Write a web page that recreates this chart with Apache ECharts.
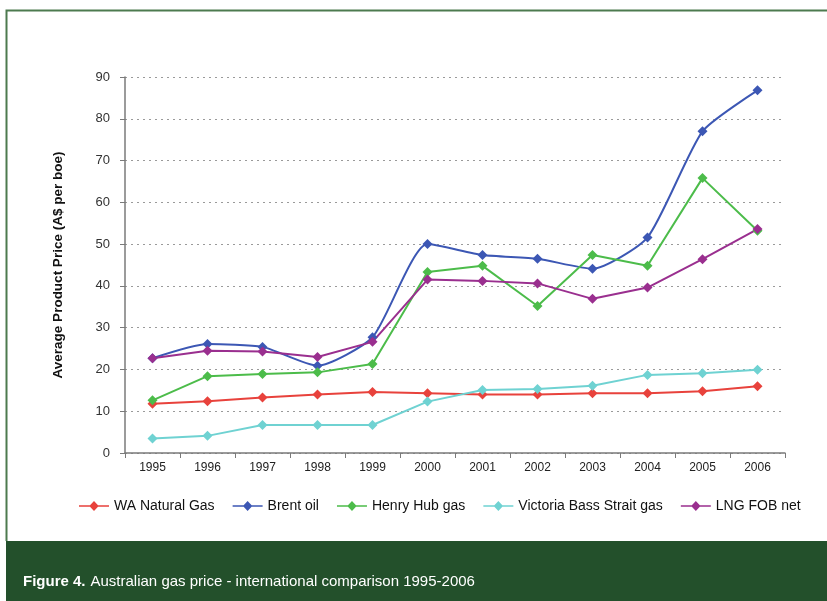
<!DOCTYPE html>
<html>
<head>
<meta charset="utf-8">
<script src="https://cdn.jsdelivr.net/npm/echarts@6/dist/echarts.min.js"></script>
<style>
  html, body { margin: 0; padding: 0; background: #fff; }
  #chart { width: 827px; height: 601px; }
</style>
</head>
<body>
<div id="chart"></div>
<script>
// Years on the category axis
const years = ['1995', '1996', '1997', '1998', '1999', '2000', '2001', '2002', '2003', '2004', '2005', '2006'];

// Average product price, A$ per boe
const waNaturalGas = [11.8, 12.4, 13.3, 14.0, 14.6, 14.3, 14.0, 14.0, 14.3, 14.3, 14.8, 16.0];
const brentOil = [22.7, 26.1, 25.4, 20.9, 27.7, 50.0, 47.4, 46.5, 44.1, 51.6, 77.0, 86.8];
const henryHub = [12.6, 18.4, 18.9, 19.3, 21.3, 43.3, 44.8, 35.2, 47.4, 44.8, 65.8, 53.2];
const victoriaBass = [3.5, 4.1, 6.7, 6.7, 6.7, 12.3, 15.1, 15.3, 16.1, 18.7, 19.1, 19.9];
const lngFob = [22.7, 24.5, 24.3, 23.0, 26.6, 41.5, 41.2, 40.6, 36.9, 39.6, 46.4, 53.6];

const yTicks = { min: 0, max: 90, interval: 10 };

const seriesDefs = [
  { name: 'WA Natural Gas', data: waNaturalGas, color: '#e8423c', smooth: false },
  { name: 'Brent oil', data: brentOil, color: '#3c57b4', smooth: 0.2 },
  { name: 'Henry Hub gas', data: henryHub, color: '#4cbc4a', smooth: false },
  { name: 'Victoria Bass Strait gas', data: victoriaBass, color: '#6fd2d2', smooth: false },
  { name: 'LNG FOB net', data: lngFob, color: '#9a2f8f', smooth: false }
];

const narrow = '"Liberation Sans Narrow", "Arial Narrow", "Liberation Sans", Arial, sans-serif';
const sans = '"Liberation Sans", Arial, sans-serif';

// Legend key: a short line with a diamond marker on it
const lineDiamondIcon = 'path://M0,4.3L11,4.3L15,0L19,4.3L30,4.3L30,5.7L19,5.7L15,10L11,5.7L0,5.7Z';

const chart = echarts.init(document.getElementById('chart'), null, { renderer: 'canvas' });

chart.setOption({
  animation: false,
  backgroundColor: '#ffffff',
  title: {
    left: 18,
    top: 568,
    text: '{b|Figure 4.} {r|Australian gas price - international comparison 1995-2006}',
    textStyle: {
      rich: {
        b: { color: '#ffffff', fontFamily: narrow, fontSize: 15, fontWeight: 'bold' },
        r: { color: '#ffffff', fontFamily: narrow, fontSize: 15, fontWeight: 'normal' }
      }
    }
  },
  graphic: [
    {
      type: 'rect', silent: true, z: -1,
      shape: { x: 6, y: 541, width: 821, height: 60 },
      style: { fill: '#23502b' }
    },
    {
      type: 'polyline', silent: true,
      shape: { points: [[6.5, 541], [6.5, 10.5], [827, 10.5]] },
      style: { stroke: '#4d7a4f', lineWidth: 2, fill: null }
    }
  ],
  legend: {
    top: 494,
    left: 74,
    itemWidth: 34,
    itemHeight: 10,
    itemGap: 18,
    textStyle: { fontFamily: sans, fontSize: 14, color: '#111', padding: [0, 0, 0, -2] },
    data: seriesDefs.map(s => ({ name: s.name, icon: lineDiamondIcon }))
  },
  grid: { left: 125, top: 77, width: 660, height: 376, containLabel: false },
  xAxis: {
    type: 'category',
    data: years,
    boundaryGap: true,
    axisLine: { lineStyle: { color: '#7a7a7a', width: 1.5 } },
    axisTick: { show: true, alignWithLabel: false, length: 5, lineStyle: { color: '#7a7a7a' } },
    axisLabel: { color: '#222', fontFamily: sans, fontSize: 12, margin: 9 },
    splitLine: { show: false }
  },
  yAxis: {
    type: 'value',
    min: yTicks.min,
    max: yTicks.max,
    interval: yTicks.interval,
    name: 'Average Product Price (A$ per boe)',
    nameLocation: 'middle',
    nameGap: 60,
    nameRotate: 90,
    nameTextStyle: { fontFamily: narrow, fontSize: 13.5, fontWeight: 'bold', color: '#111' },
    axisLine: { show: true, lineStyle: { color: '#7a7a7a', width: 1.5 } },
    axisTick: { show: true, inside: false, length: 5, lineStyle: { color: '#7a7a7a' } },
    axisLabel: { color: '#333', fontFamily: sans, fontSize: 13, margin: 15 },
    splitLine: { show: true, lineStyle: { color: '#9a9a9a', type: [2, 4], width: 1 } }
  },
  series: seriesDefs.map(s => ({
    name: s.name,
    type: 'line',
    data: s.data,
    smooth: s.smooth,
    symbol: 'diamond',
    symbolSize: 10,
    lineStyle: { color: s.color, width: 2 },
    itemStyle: { color: s.color },
    emphasis: { disabled: true }
  }))
});
</script>
</body>
</html>
